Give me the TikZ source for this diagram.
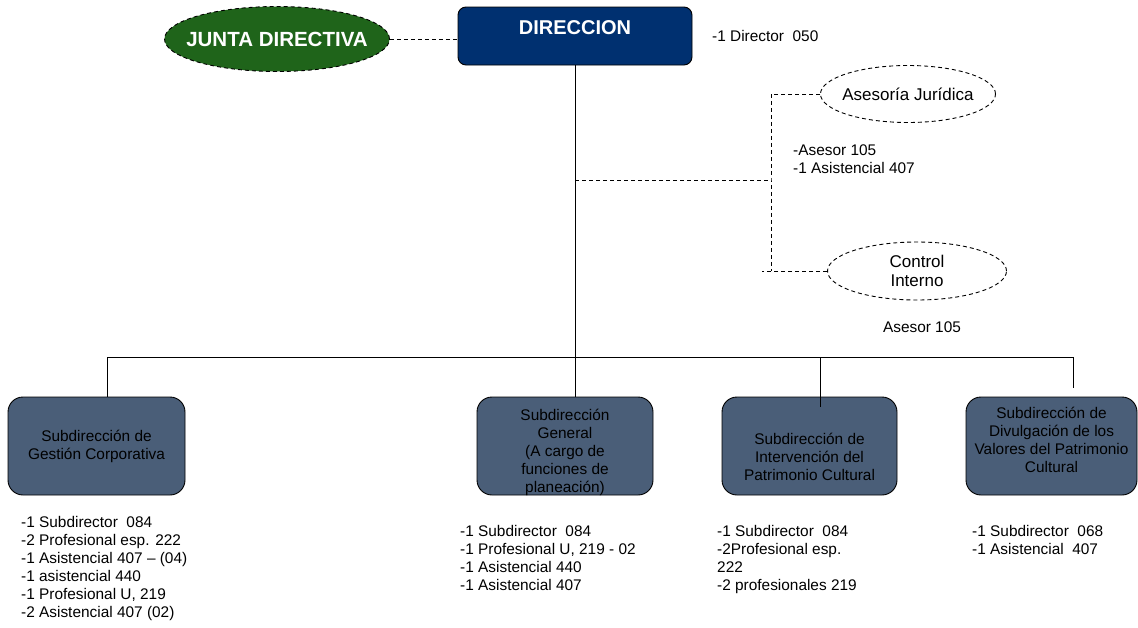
\documentclass[tikz,border=0pt]{standalone}
\usepackage{fontspec}
\setmainfont{Liberation Sans}
\usetikzlibrary{positioning, shapes.geometric}

\definecolor{dirblue}{RGB}{0,48,112}
\definecolor{juntagreen}{RGB}{31,100,26}
\definecolor{subslate}{RGB}{74,94,120}
\newcommand{\stafffont}{\fontsize{15.4}{18}\selectfont}

\begin{document}
\begin{tikzpicture}[x=1pt, y=-1pt, every node/.style={font=\stafffont},
    subbox/.style={rectangle, rounded corners=15pt, draw, fill=subslate, line width=0.9pt, inner sep=0pt, minimum height=98pt},
    boxtext/.style={align=center, inner sep=0pt},
    staff/.style={align=left, inner sep=0pt, anchor=north west},
    link/.style={line width=0.9pt},
    dlink/.style={line width=0.9pt, dash pattern=on 4pt off 3pt},
    adviser/.style={ellipse, draw, dlink, inner sep=0pt, align=center, font=\fontsize{17}{19}\selectfont}]
    \useasboundingbox (0,0) rectangle (1138,627);
    % Define nodes
    \node[rectangle, rounded corners=8pt, draw, fill=dirblue, line width=0.9pt, minimum width=234pt, minimum height=58pt, text depth=16pt, text=white, font=\bfseries\fontsize{20}{24}\selectfont] (direccion) at (575,36) {DIRECCION};
    \node[ellipse, draw, fill=juntagreen, dlink, minimum width=225pt, minimum height=65pt, inner ysep=0pt, inner xsep=-15pt, text=white, font=\bfseries\fontsize{20.5}{24}\selectfont] (junta) at (277,39) {JUNTA DIRECTIVA};
    \node[anchor=west, inner sep=0pt] (director) at (712,36) {-1 Director\ \ 050};
    % advisers
    \node[adviser, minimum width=175pt, minimum height=57pt, inner xsep=-6pt] (juridica) at (908,94) {Asesoría Jurídica};
    \node[adviser, minimum width=179pt, minimum height=58pt] (control) at (917,271) {Control\\Interno};
    \node[staff] (juridicastaff) at (793,145) {-Asesor 105\\-1 Asistencial 407};
    \node (controlstaff) at (922,327) {Asesor 105};
    % subdirecciones
    \node[subbox, minimum width=177pt] (gestion) at (96.5,446) {};
    \node[subbox, minimum width=176pt] (general) at (565,446) {};
    \node[subbox, minimum width=175pt] (intervencion) at (809.5,446) {};
    \node[subbox, minimum width=171pt] (divulgacion) at (1051.5,446) {};
    \node[boxtext] (gestiontxt) at (gestion.center) {Subdirección de\\Gestión Corporativa};
    \node[boxtext] (generaltxt) at ([yshift=-6pt]general.center) {Subdirección\\General\\(A cargo de\\funciones de\\planeación)};
    \node[boxtext] (intervenciontxt) at ([yshift=-11pt]intervencion.center) {Subdirección de\\Intervención del\\Patrimonio Cultural};
    \node[boxtext] (divulgaciontxt) at ([yshift=6pt]divulgacion.center) {Subdirección de\\Divulgación de los\\Valores del Patrimonio\\Cultural};
    % staff lists
    \node[staff] (gestionstaff) at (21,516) {-1 Subdirector\ \ 084\\-2 Profesional esp. 222\\-1 Asistencial 407 – (04)\\-1 asistencial 440\\-1 Profesional U, 219\\-2 Asistencial 407 (02)};
    \node[staff] (generalstaff) at (460,525) {-1 Subdirector\ \ 084\\-1 Profesional U, 219 - 02\\-1 Asistencial 440\\-1 Asistencial 407};
    \node[staff] (intervencionstaff) at (717,525) {-1 Subdirector\ \ 084\\-2Profesional esp.\\222\\-2 profesionales 219};
    \node[staff] (divulgacionstaff) at (972,525) {-1 Subdirector\ \ 068\\-1 Asistencial\ \ 407};
    % connections
    \coordinate (bus1) at (107,357);
    \coordinate (bus3) at (820,357);
    \coordinate (bus4) at (1073,357);
    \draw[dlink] (junta.east) -- (junta.east -| direccion.west);
    \draw[link] (direccion.south) -- (direccion.south |- bus1);
    \draw[link] (bus1) -- (bus4);
    \draw[link] (bus1) -- (bus1 |- gestion.north);
    \draw[link] (direccion.south |- bus1) -- (direccion.south |- general.north);
    \draw[link] (bus3) -- ++(0,50);
    \draw[link] (bus4) -- ++(0,31);
    % advisers link
    \coordinate (advbus) at (771,180);
    \draw[dlink] (direccion.south |- advbus) -- (advbus);
    \draw[dlink] (juridica.west) -| (advbus) -- (advbus |- control.west);
    \draw[dlink] (control.west) -- ([xshift=-9pt]advbus |- control.west);
\end{tikzpicture}
\end{document}
